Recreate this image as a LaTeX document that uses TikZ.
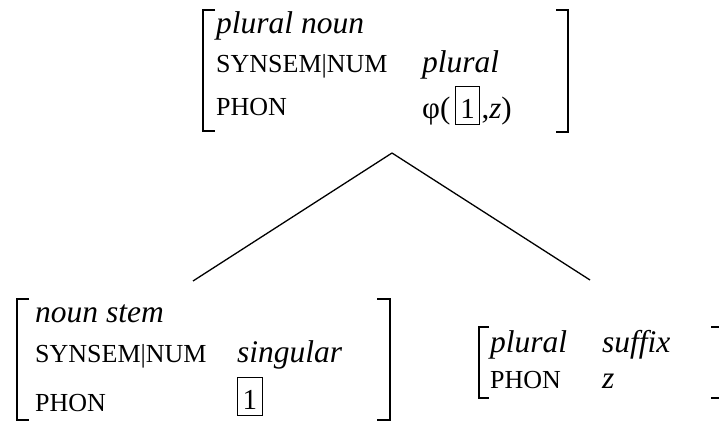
\documentclass[tikz,border=0pt]{standalone}
\usepackage{fontspec}
\setmainfont{Liberation Serif}
\usetikzlibrary{positioning}

\begin{document}
\begin{tikzpicture}[x=1pt, y=-1pt, inner sep=0pt,
  attr/.style={anchor=base west, font=\fontsize{26}{30}\selectfont},
  val/.style={anchor=base west, font=\fontsize{31.5}{36}\selectfont\itshape},
  tagbox/.style={draw, line width=1.3pt, anchor=base west, font=\fontsize{29}{34}\selectfont,
    inner xsep=5pt, inner ysep=2.5pt, text height=29pt, text depth=4pt},
  brak/.style={line width=2.8pt},
  branch/.style={line width=1.3pt}]
  \useasboundingbox (0,0) rectangle (719,423);
  % mother: plural noun
  \draw[brak] (215,10) -- (203,10) -- (203,131) -- (215,131);
  \draw[brak] (556,10) -- (568,10) -- (568,132) -- (556,132);
  \node[val] (typetop) at (216,33) {plural noun};
  \node[attr] (numtop) at (216,72) {SYNSEM|NUM};
  \node[val] (numvaltop) at (422,72) {plural};
  \node[attr] (phontop) at (216,115) {PHON};
  \node[attr, font=\fontsize{31}{36}\selectfont] (phitop) at (422,118) {φ(};
  \node[tagbox, right=4pt of phitop.base east, anchor=base west] (tagtop) {1};
  \node[attr, font=\fontsize{31}{36}\selectfont, right=1pt of tagtop.base east, anchor=base west] (ztop) {,\textit{z})};
  % branches
  \coordinate (apex) at (392,153);
  \coordinate (stemtip) at (193,281);
  \coordinate (suffixtip) at (590,280);
  \draw[branch] (apex) -- (stemtip);
  \draw[branch] (apex) -- (suffixtip);
  % left daughter: noun stem
  \draw[brak] (29,299) -- (17,299) -- (17,420) -- (29,420);
  \draw[brak] (377,299) -- (390,299) -- (390,420) -- (377,420);
  \node[val] (typestem) at (35,322) {noun stem};
  \node[attr] (numstem) at (35,362) {SYNSEM|NUM};
  \node[val] (numvalstem) at (237,362) {singular};
  \node[attr] (phonstem) at (35,411) {PHON};
  \node[tagbox] (tagstem) at (237,409) {1};
  % right daughter: plural suffix
  \draw[brak] (489,327) -- (479,327) -- (479,398) -- (489,398);
  \draw[brak] (711,327) -- (722,327) -- (722,398) -- (711,398);
  \node[val] (typesuffix) at (490,352) {plural};
  \node[val] (kindsuffix) at (602,352) {suffix};
  \node[attr] (phonsuffix) at (490,388) {PHON};
  \node[val] (zsuffix) at (602,388) {z};
\end{tikzpicture}
\end{document}
